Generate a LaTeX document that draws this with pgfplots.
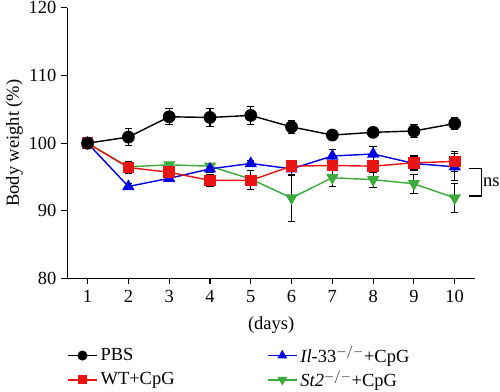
\documentclass[border=0pt]{standalone}
\usepackage{pgfplots}
\pgfplotsset{compat=1.18}
\usepackage{fontspec}
\setmainfont{Liberation Serif}
\begin{document}
\fontsize{13}{15}\selectfont
\begin{tikzpicture}
\begin{axis}[
  scale only axis, width=287pt, height=190.4pt,
  xmin=0.5, xmax=10.5, ymin=80, ymax=120,
  axis lines=left, axis line style={-, line width=0.8pt},
  xtick={1,...,10}, ytick={80,90,...,120},
  tick align=outside, major tick length=4pt,
  tick style={line width=0.8pt, black},
  yticklabel style={inner sep=1pt, xshift=-2.5pt},
  /pgf/number format/assume math mode=true,
  xlabel={(days)}, ylabel={Body weight (\%)},
  xlabel style={at={(rel axis cs:0.5,-0.173)}, anchor=center},
  ylabel style={at={(rel axis cs:-0.129,0.5)}, anchor=center},
  clip=false,
  legend columns=2,
  legend style={draw=none, fill=none, inner sep=0pt, outer sep=0pt, at={(rel axis cs:0,-0.24)}, anchor=north west,
    /tikz/every even column/.append style={column sep=63pt}, row sep=0pt,
    nodes={inner sep=2pt, outer sep=0pt}},
  legend cell align=left,
  legend image code/.code={\draw[mark repeat=2,mark phase=2] plot coordinates {(0cm,0cm)(0.36cm,0cm)(0.72cm,0cm)};},
  every axis plot/.append style={line width=1pt},
  error bars/error bar style={black, line width=0.8pt},
  error bars/error mark options={rotate=90, mark size=2.6pt, black, line width=0.8pt},
]
% invisible extent matching reference canvas
\path (rel axis cs:-0.1585,1.029) (rel axis cs:1.061,-0.415);

% St2 (green)
\addplot[forget plot, color={rgb,255:red,60;green,170;blue,60}, mark=triangle*, mark size=4pt, mark options={rotate=180},
  error bars/.cd, y dir=both, y explicit] coordinates {
 (1,100) +- (0,0)
 (2,96.5) +- (0,0.5)
 (3,96.8) +- (0,0.4)
 (4,96.6) +- (0,0.4)
 (5,94.7) +- (0,0.5)
 (6,91.9) +- (0,3.5)
 (7,94.9) +- (0,1.3)
 (8,94.6) +- (0,1.1)
 (9,94.0) +- (0,1.4)
 (10,91.9) +- (0,2.2)
};
% Il-33 (blue)
\addplot[forget plot, color={rgb,255:red,0;green,0;blue,230}, mark=triangle*, mark size=4pt,
  error bars/.cd, y dir=both, y explicit] coordinates {
 (1,100) +- (0,0)
 (2,93.6) +- (0,0.4)
 (3,94.8) +- (0,0.4)
 (4,96.2) +- (0,0.5)
 (5,97.0) +- (0,0.5)
 (6,96.2) +- (0,1.0)
 (7,98.1) +- (0,1.0)
 (8,98.4) +- (0,1.1)
 (9,97.0) +- (0,1.0)
 (10,96.5) +- (0,2.0)
};
% WT (red)
\addplot[forget plot, color={rgb,255:red,235;green,20;blue,20}, mark=square*, mark size=3.6pt,
  error bars/.cd, y dir=both, y explicit] coordinates {
 (1,100) +- (0,0)
 (2,96.4) +- (0,0.9)
 (3,95.7) +- (0,0.5)
 (4,94.5) +- (0,0.9)
 (5,94.5) +- (0,1.4)
 (6,96.6) +- (0,0.8)
 (7,96.7) +- (0,0.6)
 (8,96.6) +- (0,0.6)
 (9,97.1) +- (0,1.0)
 (10,97.3) +- (0,1.5)
};
% PBS (black)
\addplot[forget plot, color=black, mark=*, mark size=4pt,
  error bars/.cd, y dir=both, y explicit] coordinates {
 (1,100) +- (0,0)
 (2,100.9) +- (0,1.3)
 (3,103.9) +- (0,1.2)
 (4,103.8) +- (0,1.3)
 (5,104.1) +- (0,1.3)
 (6,102.4) +- (0,1.0)
 (7,101.2) +- (0,0.7)
 (8,101.6) +- (0,0.6)
 (9,101.8) +- (0,0.9)
 (10,102.9) +- (0,0.9)
};

\addlegendimage{black, line width=1pt, mark=*, mark size=3pt}
\addlegendentry{PBS}
\addlegendimage{color={rgb,255:red,0;green,0;blue,230}, line width=1pt, mark=triangle*, mark size=3pt}
\addlegendentry{\textit{Il}-33$^{-/-}$+CpG}
\addlegendimage{color={rgb,255:red,235;green,20;blue,20}, line width=1pt, mark=square*, mark size=2.8pt}
\addlegendentry{WT+CpG}
\addlegendimage{color={rgb,255:red,60;green,170;blue,60}, line width=1pt, mark=triangle*, mark size=3pt, mark options={rotate=180}}
\addlegendentry{\textit{St2}$^{-/-}$+CpG}

\draw[line width=0.8pt] (axis cs:10.34,96.2) -- (axis cs:10.66,96.2) -- (axis cs:10.66,92.2) -- (axis cs:10.34,92.2);
\node[anchor=west, inner sep=0pt] at (axis cs:10.69,94.2) {ns};
\end{axis}
\end{tikzpicture}
\end{document}
